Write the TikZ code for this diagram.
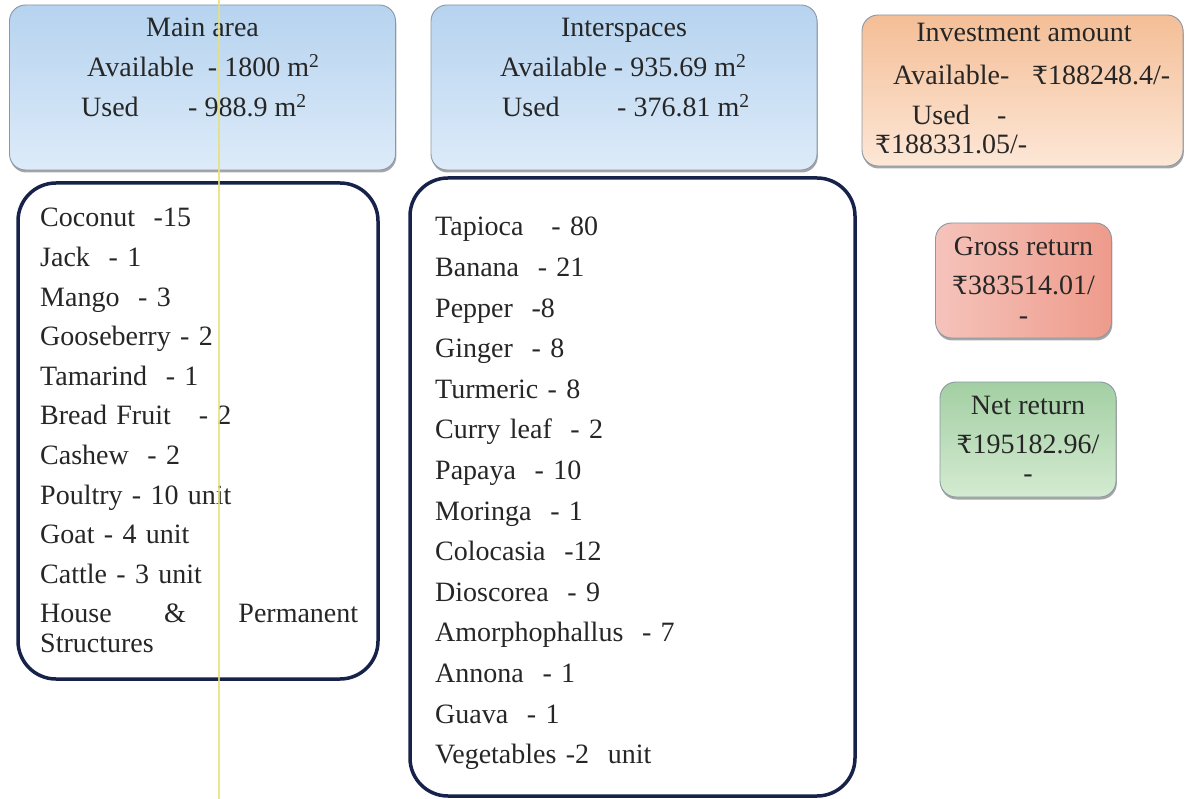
\documentclass[tikz,border=0pt]{standalone}
\usepackage{fontspec}
\setmainfont{Liberation Serif}
\newfontfamily\rupfont{DejaVu Serif}
\newcommand{\Rs}{{\rupfont\fontsize{25}{29.5}\selectfont ₹}}
\usetikzlibrary{shadows}

\definecolor{ink}{HTML}{262626}
\definecolor{panelline}{HTML}{8A98A6}
\definecolor{blueT}{HTML}{B6D3EF}
\definecolor{blueB}{HTML}{DDEBF9}
\definecolor{orangeT}{HTML}{F4BE96}
\definecolor{orangeB}{HTML}{FDE7D7}
\definecolor{pinkL}{HTML}{F5C3BB}
\definecolor{pinkR}{HTML}{EE9B8B}
\definecolor{greenT}{HTML}{A3CFA3}
\definecolor{greenB}{HTML}{D4EBD1}
\definecolor{navy}{HTML}{17224A}
\definecolor{scanline}{HTML}{E6E27A}

\tikzset{
  txt/.style={font=\fontsize{28}{29.5}\selectfont, text=ink, inner sep=0pt},
  panel/.style={draw=panelline, line width=0.9pt, rounded corners=16pt,
    drop shadow={shadow xshift=0.8pt, shadow yshift=-2.5pt, opacity=0.35, fill=black}},
  areapanel/.style={panel, top color=blueT, bottom color=blueB},
  costpanel/.style={panel, top color=orangeT, bottom color=orangeB},
  grosspanel/.style={panel, left color=pinkL, right color=pinkR, align=center, txt},
  netpanel/.style={panel, top color=greenT, bottom color=greenB, align=center, txt},
  listpanel/.style={draw=navy, line width=3.5pt, rounded corners=38pt, fill=white},
  listtext/.style={txt, align=left, anchor=base west},
}

\begin{document}
\begin{tikzpicture}[x=1pt, y=-1pt]
\useasboundingbox (0,0) rectangle (1191,799);
\fill[white] (0,0) rectangle (1191,799);

% ---- header panels ----
\node[areapanel, minimum width=386pt, minimum height=165pt] (mainarea) at (202.5,87.5) {};
\node[txt, anchor=base] (maintitle) at (202.5,37) {Main area};
\node[txt, anchor=base west] (mainavail) at (87,77) {Available\ \ - 1800 m\textsuperscript{2}};
\node[txt, anchor=base west] (mainusedlbl) at (81,117) {Used};
\node[txt, anchor=base west] (mainused) at (188,117) {- 988.9 m\textsuperscript{2}};

\node[areapanel, minimum width=386pt, minimum height=165pt] (inter) at (624,87.5) {};
\node[txt, anchor=base] (intertitle) at (624,37) {Interspaces};
\node[txt, anchor=base west] (interavail) at (500,77) {Available - 935.69 m\textsuperscript{2}};
\node[txt, anchor=base west] (interusedlbl) at (502,117) {Used};
\node[txt, anchor=base west] (interused) at (617,117) {- 376.81 m\textsuperscript{2}};

\node[costpanel, minimum width=321pt, minimum height=151pt] (invest) at (1022.5,90.5) {};
\node[txt, anchor=base] (investtitle) at (1024,42) {Investment amount};
\node[txt, anchor=base west] (investavaillbl) at (893,85) {Available-};
\node[txt, anchor=base west] (investavail) at (1032,85) {\Rs188248.4/-};
\node[txt, anchor=base west] (investusedlbl) at (912,125) {Used};
\node[txt, anchor=base west] (investdash) at (997,125) {-};
\node[txt, anchor=base west] (investused) at (875,154) {\Rs188331.05/-};

% ---- returns ----
\node[grosspanel, minimum width=176pt, minimum height=115pt] (gross) at (1023.5,280.5)
  {Gross return\\[9.5pt]\Rs383514.01/\\-};
\node[netpanel, minimum width=176pt, minimum height=115pt] (net) at (1028,439.5)
  {Net return\\[9.5pt]\Rs195182.96/\\-};

% ---- component lists ----
\node[listpanel, minimum width=360pt, minimum height=496pt] (mainbox) at (198,431) {};
\node[listtext, text width=318pt] (mainlist) at (40,227)
  {Coconut\ \ -15\\[10.1pt]
   Jack\ \ - 1\\[10.1pt]
   Mango\ \ - 3\\[10.1pt]
   Gooseberry - 2\\[10.1pt]
   Tamarind\ \ - 1\\[10.1pt]
   Bread Fruit\ \ \ - 2\\[10.1pt]
   Cashew\ \ - 2\\[10.1pt]
   Poultry - 10 unit\\[10.1pt]
   Goat - 4 unit\\[10.1pt]
   Cattle - 3 unit\\[10.1pt]
   \makebox[318pt][l]{House\hfill\&\hfill Permanent}\\
   Structures};

\node[listpanel, minimum width=445pt, minimum height=618pt] (interbox) at (632.5,487) {};
\node[listtext, text width=400pt] (interlist) at (435,236)
  {Tapioca\ \ \ - 80\\[11.1pt]
   Banana\ \ - 21\\[11.1pt]
   Pepper\ \ -8\\[11.1pt]
   Ginger\ \ - 8\\[11.1pt]
   Turmeric - 8\\[11.1pt]
   Curry leaf\ \ - 2\\[11.1pt]
   Papaya\ \ - 10\\[11.1pt]
   Moringa\ \ - 1\\[11.1pt]
   Colocasia\ \ -12\\[11.1pt]
   Dioscorea\ \ - 9\\[11.1pt]
   Amorphophallus\ \ - 7\\[11.1pt]
   Annona\ \ - 1\\[11.1pt]
   Guava\ \ - 1\\[11.1pt]
   Vegetables -2\ \ unit};

% ---- thin vertical scan stripe ----
\coordinate (stripetop) at (219,0);
\coordinate (stripebot) at (219,799);
\draw[scanline, line width=1.6pt, opacity=0.85] (stripetop) -- (stripebot);
\end{tikzpicture}
\end{document}
